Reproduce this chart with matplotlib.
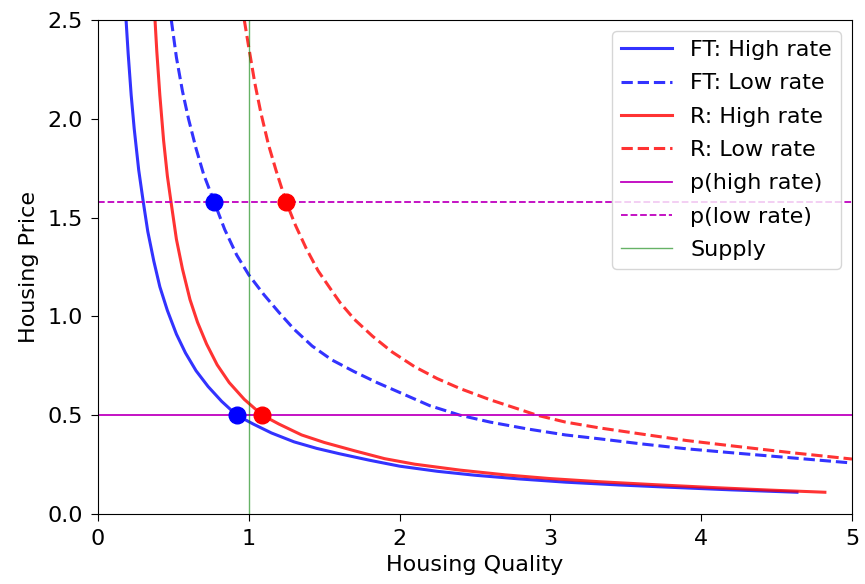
import matplotlib
matplotlib.use("Agg")
import matplotlib.pyplot as plt

plt.rcParams['font.size'] = 16
plt.rcParams['xtick.major.size'] = 5
plt.rcParams['ytick.major.size'] = 5
plt.rcParams['xtick.major.pad'] = 6
plt.rcParams['ytick.major.pad'] = 6

# curves: (quality, price)
ft_high_q = [0.186, 0.20, 0.22, 0.24, 0.27, 0.30, 0.33, 0.37, 0.41, 0.46, 0.52, 0.58, 0.65, 0.73, 0.82,
             0.92, 1.03, 1.15, 1.3, 1.45, 1.6, 1.8, 2.0, 2.25, 2.5, 2.8, 3.1, 3.45, 3.8, 4.2, 4.635]
ft_high_p = [2.5, 2.33, 2.12, 1.95, 1.74, 1.58, 1.43, 1.28, 1.15, 1.03, 0.91, 0.815, 0.725, 0.645, 0.57,
             0.50, 0.455, 0.41, 0.365, 0.332, 0.305, 0.272, 0.242, 0.216, 0.196, 0.177, 0.161, 0.147, 0.135, 0.122, 0.11]

ft_low_q = [0.486, 0.52, 0.56, 0.60, 0.65, 0.70, 0.77, 0.84, 0.92, 1.0, 1.1, 1.2, 1.3, 1.42, 1.55, 1.7,
            1.85, 2.0, 2.2, 2.4, 2.6, 2.85, 3.1, 3.33, 3.6, 3.9, 4.2, 4.6, 5.0]
ft_low_p = [2.5, 2.31, 2.14, 2.0, 1.85, 1.72, 1.58, 1.44, 1.31, 1.21, 1.11, 1.02, 0.935, 0.85, 0.78, 0.72,
            0.665, 0.615, 0.548, 0.50, 0.465, 0.43, 0.40, 0.38, 0.355, 0.33, 0.31, 0.284, 0.258]

r_high_q = [0.378, 0.39, 0.41, 0.435, 0.46, 0.484, 0.52, 0.56, 0.61, 0.66, 0.72, 0.79, 0.87, 0.97, 1.09,
            1.2, 1.35, 1.5, 1.7, 1.9, 2.1, 2.4, 2.7, 3.0, 3.33, 3.7, 4.1, 4.45, 4.82]
r_high_p = [2.5, 2.34, 2.12, 1.89, 1.71, 1.58, 1.39, 1.24, 1.085, 0.97, 0.86, 0.755, 0.665, 0.58, 0.50,
            0.455, 0.40, 0.362, 0.32, 0.28, 0.252, 0.222, 0.198, 0.179, 0.163, 0.148, 0.133, 0.121, 0.11]

r_low_q = [0.97, 1.0, 1.04, 1.08, 1.13, 1.18, 1.247, 1.31, 1.38, 1.46, 1.55, 1.605, 1.7, 1.82, 1.95,
           2.1, 2.25, 2.4, 2.6, 2.8, 2.91, 3.1, 3.33, 3.6, 3.9, 4.2, 4.6, 5.0]
r_low_p = [2.5, 2.36, 2.18, 2.03, 1.87, 1.74, 1.58, 1.46, 1.345, 1.23, 1.13, 1.07, 0.985, 0.9, 0.82,
           0.745, 0.685, 0.635, 0.578, 0.528, 0.50, 0.465, 0.435, 0.405, 0.372, 0.345, 0.31, 0.278]

p_high = 0.5
p_low = 1.58
supply = 1.0

# equilibrium points
eq_blue_q = [0.77, 0.92]
eq_blue_p = [1.58, 0.5]
eq_red_q = [1.247, 1.09]
eq_red_p = [1.58, 0.5]

fig = plt.figure(figsize=(8.65, 5.84), dpi=100)
ax = fig.add_axes([0.1133, 0.1199, 0.8717, 0.8459])

ax.plot(ft_high_q, ft_high_p, color='b', alpha=0.8, lw=2.2, label="FT: High rate")
ax.plot(ft_low_q, ft_low_p, color='b', alpha=0.8, lw=2.2, linestyle='--', label="FT: Low rate")
ax.plot(r_high_q, r_high_p, color='r', alpha=0.8, lw=2.2, label="R: High rate")
ax.plot(r_low_q, r_low_p, color='r', alpha=0.8, lw=2.2, linestyle='--', label="R: Low rate")
ax.axhline(p_high, color='m', lw=1.3, label="p(high rate)")
ax.axhline(p_low, color='m', lw=1.3, linestyle='--', label="p(low rate)")
ax.axvline(supply, color='g', lw=1, alpha=0.6, label="Supply")

ax.plot(eq_blue_q, eq_blue_p, 'o', color='b', markersize=12)
ax.plot(eq_red_q, eq_red_p, 'o', color='r', markersize=12)

ax.set_xlim(0, 5)
ax.set_ylim(0, 2.5)
ax.set_xlabel("Housing Quality", labelpad=4)
ax.set_ylabel("Housing Price", labelpad=6)
ax.legend(loc='upper right', labelspacing=0.6, handlelength=2.3)

plt.savefig("out.png")
